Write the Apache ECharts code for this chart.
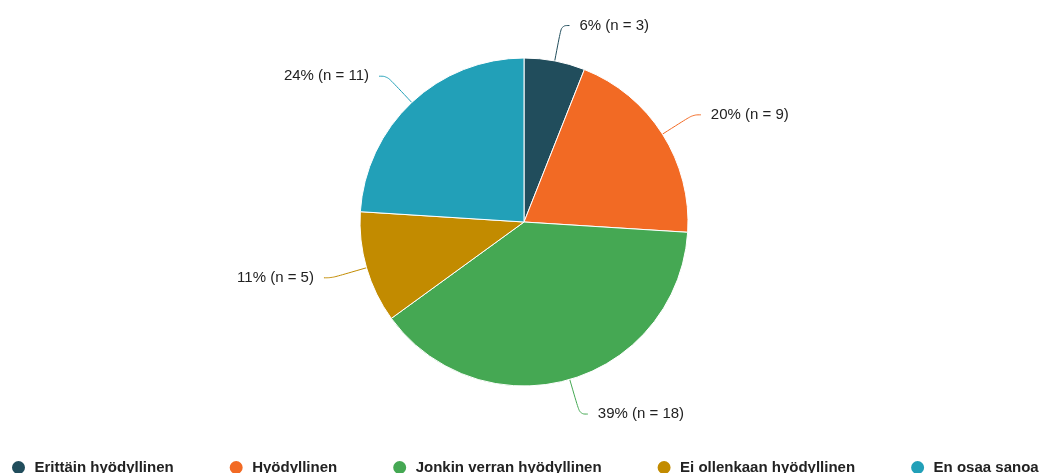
<!DOCTYPE html>
<html><head><meta charset="utf-8">
<script src="https://cdn.jsdelivr.net/npm/echarts@6/dist/echarts.min.js"></script>
<style>html,body{margin:0;padding:0;background:#fff}#c{width:1046px;height:473px}</style>
</head><body><div id="c"></div>
<script>
const categories = ['Erittäin hyödyllinen','Hyödyllinen','Jonkin verran hyödyllinen','Ei ollenkaan hyödyllinen','En osaa sanoa'];
const counts = [3, 9, 18, 5, 11];
const percents = [6, 20, 39, 11, 24];
const colors = ['#214d5c','#f26a24','#45a853','#c28b00','#22a0b8'];

const chart = echarts.init(document.getElementById('c'));
chart.setOption({
  animation: false,
  color: colors,
  legend: {
    data: categories,
    left: 10,
    top: 459,
    padding: 0,
    icon: 'circle',
    itemWidth: 22,
    itemHeight: 15,
    itemGap: 54,
    textStyle: { fontFamily: 'Liberation Sans, Arial, sans-serif', fontSize: 15, fontWeight: 'bold', color: '#222' }
  },
  series: [{
    type: 'pie',
    center: [524, 222],
    radius: 164,
    startAngle: 90,
    clockwise: true,
    itemStyle: { borderColor: '#fff', borderWidth: 1 },
    label: {
      formatter: p => percents[p.dataIndex] + '% (n = ' + counts[p.dataIndex] + ')',
      fontFamily: 'Liberation Sans, Arial, sans-serif',
      fontSize: 15,
      color: '#222',
      distanceToLabelLine: 10
    },
    labelLine: { length: 36, length2: 8, smooth: 0.4, lineStyle: { width: 1 } },
    data: categories.map((n, i) => ({ name: n, value: percents[i] }))
  }]
});
</script></body></html>
